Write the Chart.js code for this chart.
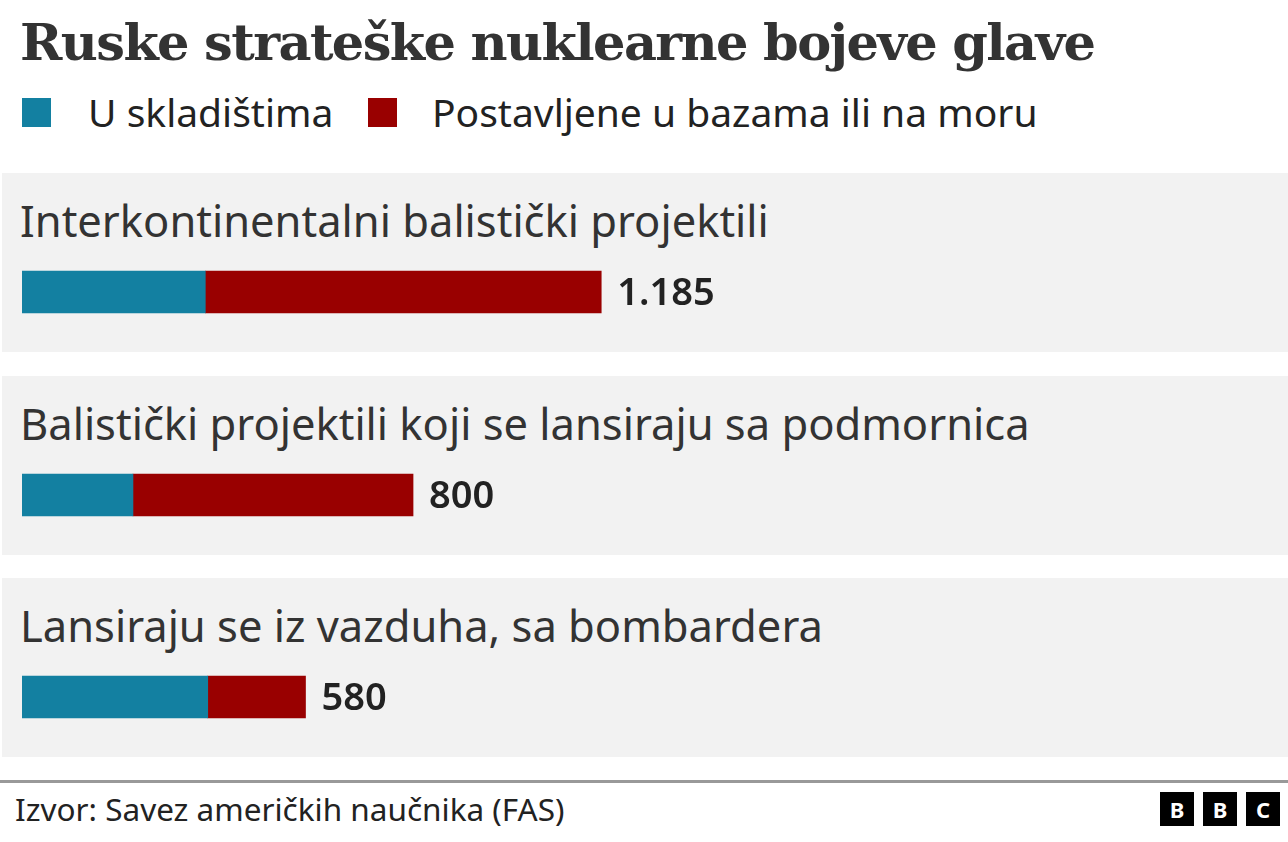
<!DOCTYPE html>
<html>
<head>
<meta charset="utf-8">
<script src="https://cdn.jsdelivr.net/npm/chart.js@4.4.1/dist/chart.umd.min.js"></script>
<style>
    body { margin: 0; width: 1288px; height: 842px; background: #fff; position: relative; overflow: hidden; font-family: "Noto Sans", sans-serif; color: #222; }
    #title { position: absolute; left: 20px; top: 17px; line-height: 1; font-family: "DejaVu Serif", serif; font-weight: bold; font-size: 51px; color: #333; letter-spacing: -1.6px; white-space: nowrap; }
    .key { position: absolute; top: 98px; width: 29px; height: 29px; }
    .keytxt { position: absolute; top: 85px; font-size: 39px; color: #222; white-space: nowrap; }
    .panel { position: absolute; left: 2px; width: 1286px; height: 179px; background: #f2f2f2; }
    .panel .lbl { position: absolute; left: 18px; top: 17px; font-size: 43.5px; color: #333; white-space: nowrap; }
    .panel canvas { position: absolute; left: 20px; top: 88px; }
    #rule { position: absolute; left: 0; top: 780px; width: 1288px; height: 3px; background: #999; }
    #source { position: absolute; left: 15px; top: 787px; font-size: 31.5px; color: #222; white-space: nowrap; }
    .bbc { position: absolute; top: 792px; width: 34px; height: 34px; background: #000; color: #fff; font: bold 22px "Noto Sans", sans-serif; text-align: center; line-height: 34px; }
</style>
</head>
<body>
<div id="title">Ruske strateške nuklearne bojeve glave</div>
<div class="key" style="left:22px;background:#1380A1"></div>
<div class="keytxt" style="left:88px">U skladištima</div>
<div class="key" style="left:368px;background:#990000"></div>
<div class="keytxt" style="left:432px">Postavljene u bazama ili na moru</div>

<div id="panels"></div>

<div id="rule"></div>
<div id="source">Izvor: Savez američkih naučnika (FAS)</div>
<div class="bbc" style="left:1160px">B</div>
<div class="bbc" style="left:1203px">B</div>
<div class="bbc" style="left:1246px">C</div>

<script>
// data
const categories = ["Interkontinentalni balistički projektili", "Balistički projektili koji se lansiraju sa podmornica", "Lansiraju se iz vazduha, sa bombardera"];
const stored = [375, 227, 380];
const deployed = [810, 573, 200];
const totalLabels = ["1.185", "800", "580"];
const seriesNames = ["U skladištima", "Postavljene u bazama ili na moru"];

const panelTops = [173, 376, 578];
const xMax = 2590;

// total value after the bar
const totalLabelPlugin = {
    id: "totalLabel",
    afterDatasetsDraw: function (chart, args, opts) {
        const ctx = chart.ctx;
        const i = opts.index;
        const xs = chart.scales.x;
        const meta = chart.getDatasetMeta(1).data[0];
        const end = xs.getPixelForValue(stored[i] + deployed[i]);
        ctx.save();
        ctx.font = "600 38px 'Noto Sans', sans-serif";
        ctx.fillStyle = "#222";
        ctx.textBaseline = "middle";
        ctx.fillText(totalLabels[i], end + 16, meta.y + 2);
        ctx.restore();
    },
};

const holder = document.getElementById("panels");

categories.forEach(function (cat, i) {
    const panel = document.createElement("div");
    panel.className = "panel";
    panel.style.top = panelTops[i] + "px";

    const lbl = document.createElement("div");
    lbl.className = "lbl";
    lbl.textContent = cat;
    panel.appendChild(lbl);

    const cv = document.createElement("canvas");
    cv.id = "chart_" + i;
    cv.width = 1266;
    cv.height = 62;
    cv.style.width = "1266px";
    cv.style.height = "62px";
    panel.appendChild(cv);
    holder.appendChild(panel);

    new Chart(cv, {
        type: "bar",
        data: {
            labels: [cat],
            datasets: [
                {
                    label: seriesNames[0],
                    data: [stored[i]],
                    backgroundColor: "#1380A1",
                    barThickness: 42,
                },
                {
                    label: seriesNames[1],
                    data: [deployed[i]],
                    backgroundColor: "#990000",
                    barThickness: 42,
                },
            ],
        },
        options: {
            indexAxis: "y",
            responsive: false,
            animation: false,
            layout: { padding: 0 },
            scales: {
                x: { stacked: true, min: 0, max: xMax, display: false },
                y: { stacked: true, display: false },
            },
            plugins: {
                legend: { display: false },
                tooltip: { enabled: false },
                totalLabel: { index: i },
            },
        },
        plugins: [totalLabelPlugin],
    });
});
</script>
</body>
</html>
